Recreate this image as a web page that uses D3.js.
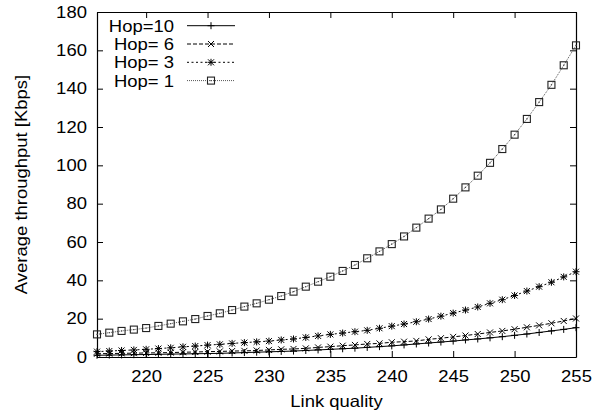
<!DOCTYPE html>
<html>
<head>
<meta charset="utf-8">
<script src="https://cdn.jsdelivr.net/npm/d3@7"></script>
<style>
  body { margin: 0; background: #fff; }
  text { font-family: "Liberation Sans", Arial, sans-serif; }
</style>
</head>
<body>
<svg id="chart" width="611" height="418"></svg>
<script>
'use strict'

// link quality values (x), one point per unit
const linkQuality = [216, 217, 218, 219, 220, 221, 222, 223, 224, 225, 226, 227, 228, 229, 230, 231, 232, 233, 234, 235,
    236, 237, 238, 239, 240, 241, 242, 243, 244, 245, 246, 247, 248, 249, 250, 251, 252, 253, 254, 255]

const hop10 = [0.9, 1.0, 1.1, 1.2, 1.3, 1.4, 1.5, 1.6, 1.7, 1.8, 1.9, 2.1, 2.3, 2.5, 2.7, 2.9, 3.1, 3.4, 3.7, 4.0,
    4.3, 4.6, 5.0, 5.4, 5.8, 6.3, 6.8, 7.3, 7.8, 8.3, 8.9, 9.4, 10.0, 10.6, 11.3, 12.0, 12.8, 13.6, 14.4, 15.3]
const hop6 = [1.7, 1.8, 1.9, 2.0, 2.1, 2.2, 2.3, 2.5, 2.6, 2.8, 2.9, 3.1, 3.2, 3.4, 3.7, 4.0, 4.2, 4.5, 5.0, 5.4,
    5.9, 6.3, 6.8, 7.1, 7.7, 8.0, 8.4, 9.2, 9.8, 10.5, 11.2, 12.0, 12.8, 13.6, 14.5, 15.5, 16.5, 17.6, 18.8, 20.1]
const hop3 = [2.8, 3.1, 3.4, 3.7, 4.0, 4.4, 4.8, 5.3, 5.7, 6.2, 6.6, 7.1, 7.5, 7.9, 8.3, 8.9, 9.4, 10.2, 11.0, 11.8,
    12.5, 13.2, 13.9, 15.0, 16.1, 17.2, 18.4, 19.8, 21.3, 22.9, 24.5, 26.1, 28.0, 29.9, 32.1, 34.4, 36.7, 39.0, 41.8, 44.5]
const hop1 = [11.8, 12.7, 13.6, 14.3, 15.1, 16.2, 17.4, 18.6, 19.8, 21.4, 22.8, 24.5, 26.3, 28.0, 29.9, 31.8, 34.1, 36.7, 39.3, 41.9,
    44.9, 48.0, 51.5, 55.1, 58.9, 62.9, 67.5, 72.2, 77.0, 82.6, 88.5, 94.6, 101.3, 108.5, 116.0, 124.2, 133.0, 142.0, 152.2, 162.6]

const seriesNames = ['Hop=10', 'Hop= 6', 'Hop= 3', 'Hop= 1']
const xTicks = [220, 225, 230, 235, 240, 245, 250, 255]
const yTicks = [0, 20, 40, 60, 80, 100, 120, 140, 160, 180]

const series = [
    { name: seriesNames[0], values: hop10, marker: 'plus', dash: null, color: '#000' },
    { name: seriesNames[1], values: hop6, marker: 'cross', dash: '4,2', color: '#000' },
    { name: seriesNames[2], values: hop3, marker: 'star', dash: '2,2.5', color: '#000' },
    { name: seriesNames[3], values: hop1, marker: 'square', dash: '1,1', color: '#555' }
]

const svg = d3.select('#chart')
const stretch = 'scale(1.12,1)'
const fontSize = '16.5px'

let margin = { top: 12, right: 35, bottom: 61, left: 97 }
let width = 611 - margin.left - margin.right
let height = 418 - margin.top - margin.bottom

let g = svg.append('g').attr('transform', `translate(${margin.left}, ${margin.top})`)

let x = d3.scaleLinear().domain([216, 255]).range([0, width])
let y = d3.scaleLinear().domain([0, 180]).range([height, 0])

// axes, ticks pointing inward
g.append('g')
    .attr('transform', `translate(0, ${height})`)
    .call(d3.axisBottom(x).tickValues(xTicks).tickSizeInner(-6).tickSizeOuter(0).tickPadding(13))
g.append('g')
    .call(d3.axisTop(x).tickValues(xTicks).tickSizeInner(-6).tickSizeOuter(0).tickFormat(''))
g.append('g')
    .call(d3.axisLeft(y).tickValues(yTicks).tickSizeInner(-6).tickSizeOuter(0).tickPadding(9))
g.append('g')
    .attr('transform', `translate(${width}, 0)`)
    .call(d3.axisRight(y).tickValues(yTicks).tickSizeInner(-6).tickSizeOuter(0).tickFormat(''))

g.selectAll('.domain').attr('stroke', '#000').attr('stroke-width', 1.2)
g.selectAll('.tick line').attr('stroke', '#000')
g.selectAll('.tick text')
    .attr('fill', '#000')
    .attr('font-size', fontSize)
    .attr('font-family', '"Liberation Sans", Arial, sans-serif')
    .attr('transform', stretch)

// axis titles
svg.append('text')
    .attr('transform', `translate(${margin.left + width / 2}, 407) ${stretch}`)
    .attr('text-anchor', 'middle')
    .attr('font-size', fontSize)
    .text('Link quality')

svg.append('text')
    .attr('transform', `translate(27, ${margin.top + height / 2}) rotate(-90) ${stretch}`)
    .attr('text-anchor', 'middle')
    .attr('font-size', fontSize)
    .text('Average throughput [Kbps]')

function drawMarker(sel, type, color) {
    if (type === 'square') {
        sel.append('rect').attr('x', -3.5).attr('y', -3.5).attr('width', 7).attr('height', 7)
            .attr('fill', 'none').attr('stroke', '#222').attr('stroke-width', 1.1)
        sel.append('rect').attr('x', -0.6).attr('y', -0.6).attr('width', 1.2).attr('height', 1.2).attr('fill', '#444')
        return
    }
    let p = ''
    if (type === 'plus' || type === 'star') p += 'M-3.5,0H3.5M0,-3.5V3.5'
    if (type === 'cross' || type === 'star') p += 'M-3,-3L3,3M-3,3L3,-3'
    sel.append('path').attr('d', p).attr('fill', 'none').attr('stroke', '#000').attr('stroke-width', 1)
}

let line = d3.line().x((d, i) => x(linkQuality[i])).y(d => y(d))

series.forEach(s => {
    g.append('path')
        .datum(s.values)
        .attr('d', line)
        .attr('fill', 'none')
        .attr('stroke', s.color)
        .attr('stroke-width', 1)
        .attr('stroke-dasharray', s.dash)

    g.append('g')
        .selectAll('g')
        .data(s.values)
        .enter()
        .append('g')
        .attr('transform', (d, i) => `translate(${x(linkQuality[i])}, ${y(d)})`)
        .each(function () { drawMarker(d3.select(this), s.marker, s.color) })
})

// legend
let legend = svg.append('g')
    .selectAll('g')
    .data(series)
    .enter()
    .append('g')
    .attr('transform', (d, i) => `translate(0, ${25.7 + i * 18.3})`)

legend.append('text')
    .attr('transform', `translate(174, 5.9) ${stretch}`)
    .attr('text-anchor', 'end')
    .attr('font-size', fontSize)
    .style('white-space', 'pre')
    .text(d => d.name)

legend.append('line')
    .attr('x1', 187).attr('x2', 235)
    .attr('stroke', d => d.color)
    .attr('stroke-width', 1)
    .attr('stroke-dasharray', d => d.dash)

legend.append('g')
    .attr('transform', 'translate(211, 0)')
    .each(function (d) { drawMarker(d3.select(this), d.marker, d.color) })
</script>
</body>
</html>
